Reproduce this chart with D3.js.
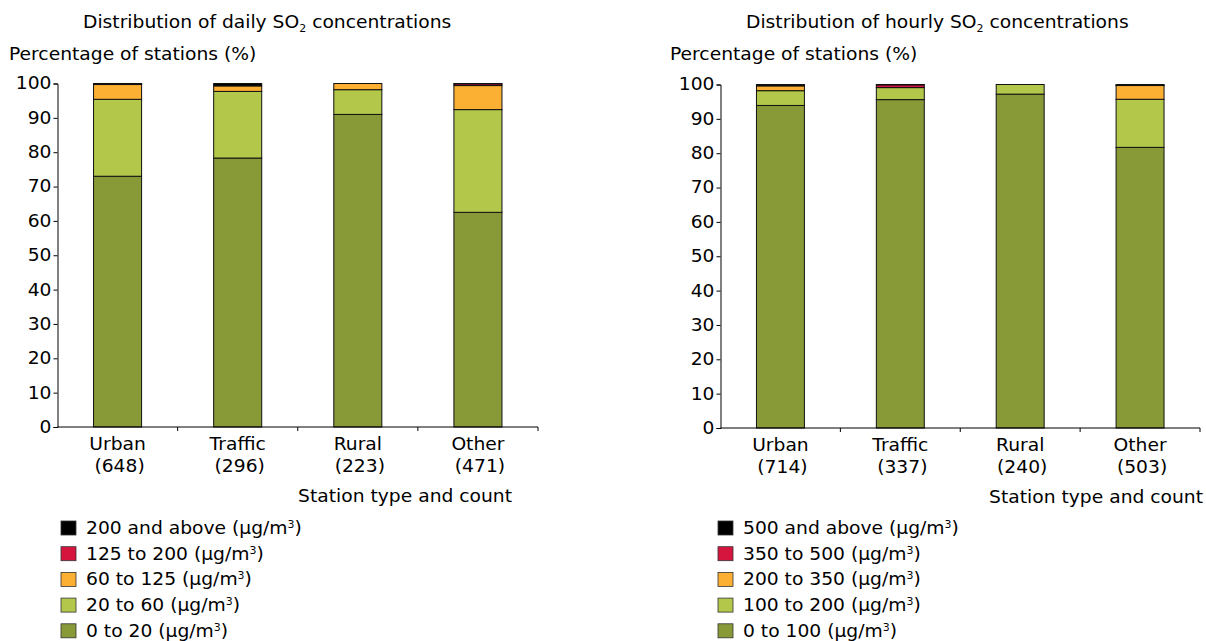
<!DOCTYPE html>
<html>
<head>
<meta charset="utf-8">
<script src="https://cdn.jsdelivr.net/npm/d3@7"></script>
<style>
  html, body { margin: 0; padding: 0; background: #fff; }
  svg text { font-family: "DejaVu Sans", Verdana, sans-serif; fill: #000; }
</style>
</head>
<body>
<svg id="chart" width="1206" height="641"></svg>
<script>
// ---- data ----
const stationTypes = ["Urban", "Traffic", "Rural", "Other"];
const dailyCounts = [648, 296, 223, 471];
const hourlyCounts = [714, 337, 240, 503];

const dailyClasses = ["0 to 20", "20 to 60", "60 to 125", "125 to 200", "200 and above"];
const daily0to20     = [73.0, 78.3, 91.0, 62.5];
const daily20to60    = [22.4, 19.4, 7.2, 29.9];
const daily60to125   = [4.3, 1.6, 1.8, 7.0];
const daily125to200  = [0.1, 0.0, 0.0, 0.5];
const daily200plus   = [0.2, 0.7, 0.0, 0.1];

const hourlyClasses = ["0 to 100", "100 to 200", "200 to 350", "350 to 500", "500 and above"];
const hourly0to100   = [93.9, 95.6, 97.2, 81.7];
const hourly100to200 = [4.3, 3.5, 2.8, 14.0];
const hourly200to350 = [1.4, 0.0, 0.0, 4.0];
const hourly350to500 = [0.1, 0.8, 0.0, 0.1];
const hourly500plus  = [0.3, 0.1, 0.0, 0.2];

const yTicks = [0, 10, 20, 30, 40, 50, 60, 70, 80, 90, 100];
const classColors = ["#879a37", "#b3c84b", "#fbb034", "#d6153f", "#000000"];

const svg = d3.select("#chart");
const FS = 17;     // font size
const SX = 1.1;    // horizontal text stretch (reference text is wide)

function stext(parent, x, y, anchor) {
  return parent.append("text")
    .attr("transform", `translate(${x},${y}) scale(${SX},1)`)
    .attr("text-anchor", anchor || "start")
    .style("font-size", FS + "px");
}

function drawPanel(cfg) {
  const g = svg.append("g");
  const x = d3.scaleBand().domain(stationTypes)
    .range([cfg.x0, cfg.x1]).paddingInner(0.6).paddingOuter(0.3);
  const y = d3.scaleLinear().domain([0, 100]).range([cfg.yb, cfg.yt]);

  const rows = stationTypes.map((t, i) => {
    const r = { type: t };
    cfg.classes.forEach((c, k) => r[c] = cfg.series[k][i]);
    return r;
  });
  const stack = d3.stack().keys(cfg.classes)(rows);

  g.selectAll("g.layer").data(stack).join("g")
    .attr("fill", (d, k) => classColors[k])
    .selectAll("rect").data(d => d.filter(p => p[1] - p[0] > 0)).join("rect")
    .attr("x", d => x(d.data.type))
    .attr("width", x.bandwidth())
    .attr("y", d => y(d[1]))
    .attr("height", d => y(d[0]) - y(d[1]))
    .attr("stroke", "#111")
    .attr("stroke-width", 1);

  // y axis
  const ya = g.append("g").attr("transform", `translate(${cfg.x0},0)`)
    .call(d3.axisLeft(y).tickValues(yTicks).tickSize(4).tickPadding(5));
  ya.selectAll("text")
    .style("font-size", FS + "px").style("font-family", "DejaVu Sans")
    .attr("x", -6 / SX)
    .attr("transform", `scale(${SX},1)`);
  ya.selectAll("line, path").attr("stroke", "#000");

  // x axis
  const xa = g.append("g").attr("transform", `translate(0,${cfg.yb})`);
  xa.append("line").attr("x1", cfg.x0).attr("x2", cfg.x1).attr("stroke", "#000");
  const step = x.step();
  stationTypes.forEach((t, i) => {
    const xt = cfg.x0 + (i + 1) * step;
    xa.append("line").attr("x1", xt).attr("x2", xt).attr("y1", 0).attr("y2", 4).attr("stroke", "#000");
  });
  stationTypes.forEach((t, i) => {
    const cx = x(t) + x.bandwidth() / 2;
    stext(xa, cx, 23, "middle").text(t);
    stext(xa, cx + 2, 45, "middle").text(`(${cfg.counts[i]})`);
  });

  stext(g, cfg.xTitleRight, cfg.yb + 75, "end").text("Station type and count");

  // titles
  const tt = stext(g, cfg.titleX, 28, "start");
  tt.append("tspan").text(`Distribution of ${cfg.kind} SO`);
  tt.append("tspan").attr("dy", 4).style("font-size", "10px").text("2");
  tt.append("tspan").attr("dy", -4).text(" concentrations");

  stext(g, cfg.yTitleX, 60, "start").text("Percentage of stations (%)");

  // legend (top item = highest class)
  const leg = g.append("g");
  const order = d3.range(cfg.classes.length).reverse();
  order.forEach((k, j) => {
    const cy = 528 + j * 25.7;
    leg.append("rect").attr("x", cfg.legX).attr("y", cy - 7).attr("width", 15).attr("height", 14)
      .attr("fill", classColors[k]).attr("stroke", "#333").attr("stroke-width", 0.8);
    const t = stext(leg, cfg.legX + 25, cy + 6, "start");
    t.append("tspan").text(`${cfg.classes[k]} (μg/m`);
    t.append("tspan").attr("dy", -6).style("font-size", "10px").text("3");
    t.append("tspan").attr("dy", 6).text(")");
  });
}

drawPanel({
  kind: "daily", classes: dailyClasses, counts: dailyCounts,
  series: [daily0to20, daily20to60, daily60to125, daily125to200, daily200plus],
  x0: 57.5, x1: 538, yb: 427, yt: 83.5, titleX: 83, yTitleX: 9,
  xTitleRight: 512, legX: 61
});
drawPanel({
  kind: "hourly", classes: hourlyClasses, counts: hourlyCounts,
  series: [hourly0to100, hourly100to200, hourly200to350, hourly350to500, hourly500plus],
  x0: 720.5, x1: 1200, yb: 428, yt: 84.5, titleX: 746, yTitleX: 670,
  xTitleRight: 1203, legX: 718
});
</script>
</body>
</html>
